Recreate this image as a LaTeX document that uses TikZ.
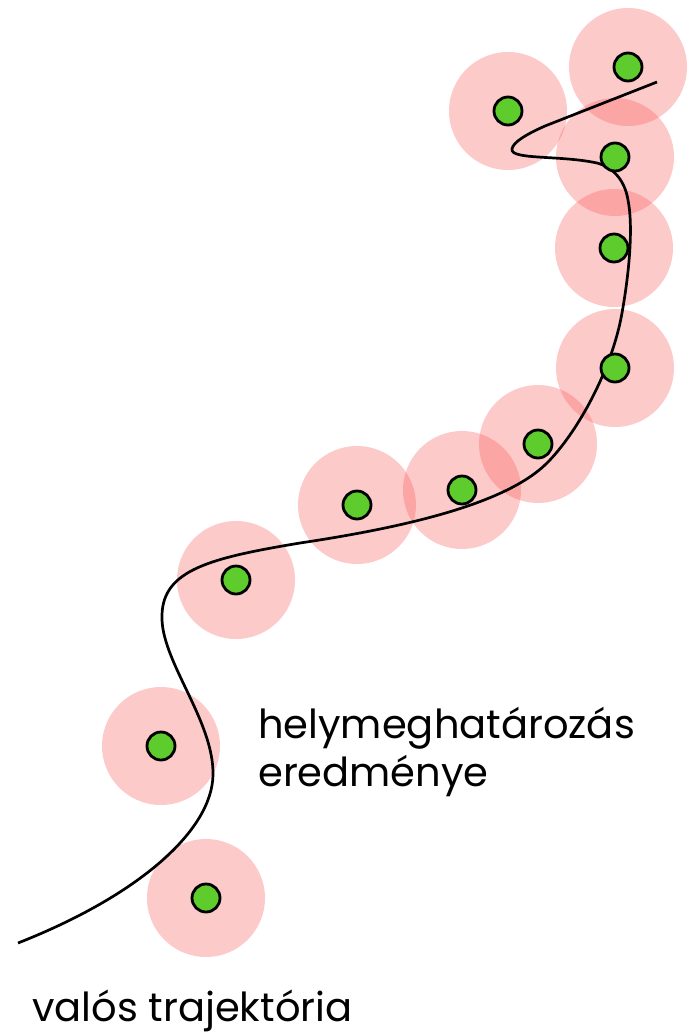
\documentclass[tikz,border=0pt]{standalone}
\usepackage{fontspec}
\setmainfont{Poppins}
\definecolor{zonered}{RGB}{250,80,80}
\definecolor{dotgreen}{RGB}{94,204,44}
\begin{document}
\begin{tikzpicture}[x=1pt,y=-1pt,
  zone/.style={fill=zonered,fill opacity=0.3,draw=none},
  fix/.style={circle,fill=dotgreen,draw=black,line width=2.8pt,minimum size=28pt,inner sep=0pt},
  track/.style={draw=black,line width=2.7pt},
  lbl/.style={font=\fontsize{40}{48}\selectfont,anchor=north west,inner sep=0pt,align=left}]
\useasboundingbox (0,0) rectangle (686,1034);
% position estimates with their uncertainty zones
\foreach \n/\px/\py in {p1/628/67,p2/508/111,p3/615/157,p4/614/248,p5/615/368,
  p6/538/444,p7/462/490,p8/357/505,p9/236/580,p10/161/746,p11/206/898}{
  \fill[zone] (\px,\py) circle[radius=59];
}
% the true path
\draw[track] (18,943) .. controls (140,895) and (212,830) .. (213,775)
  .. controls (214,720) and (160,660) .. (162,615)
  .. controls (163,570) and (210,558) .. (300,543)
  .. controls (400,528) and (505,505) .. (547,463)
  .. controls (577,433) and (612,370) .. (622,313)
  .. controls (630,268) and (633,225) .. (628,200)
  .. controls (625,182) and (615,168) .. (597,163)
  .. controls (560,155) and (510,160) .. (512,149)
  .. controls (513,142) and (527,134) .. (545,126)
  -- (657,82);
\foreach \n/\px/\py in {p1/628/67,p2/508/111,p3/615/157,p4/614/248,p5/615/368,
  p6/538/444,p7/462/490,p8/357/505,p9/236/580,p10/161/746,p11/206/898}{
  \node[fix] (\n) at (\px,\py) {};
}
\node[lbl,anchor=base west] (est) at (258,786) {helymeghatározás\\eredménye};
\node[lbl,anchor=base west] (real) at (32,1021) {valós trajektória};
\end{tikzpicture}
\end{document}
